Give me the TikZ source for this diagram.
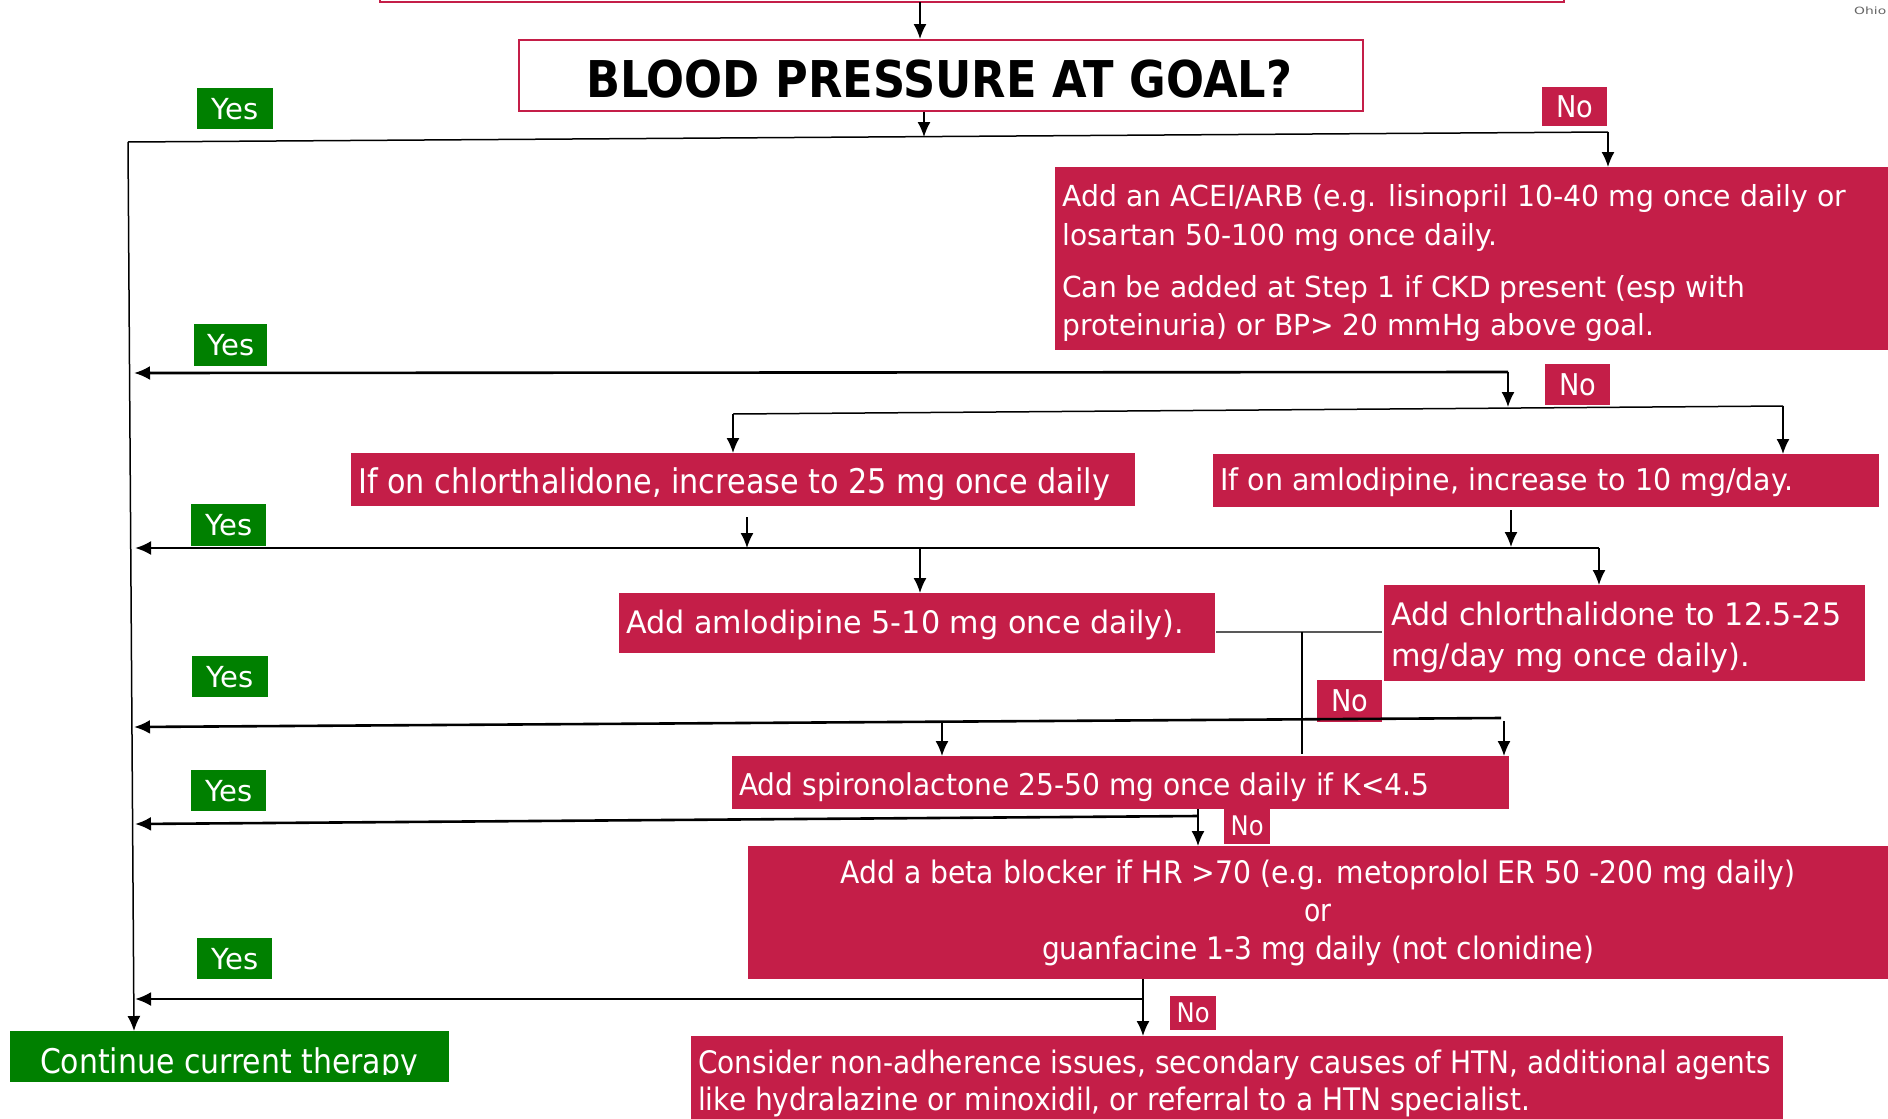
\documentclass[tikz,border=0pt]{standalone}
\usepackage{fontspec}
\usepackage{graphicx}
\setmainfont{DejaVu Sans}
\usetikzlibrary{arrows.meta}
\definecolor{crim}{RGB}{196,30,72}
\definecolor{grn}{RGB}{0,128,0}
\newsavebox\fitbox
\newlength\fitlen
\newcommand\fitw[2]{\sbox\fitbox{#2}\setlength\fitlen{\wd\fitbox}\pgfmathsetmacro\fitr{#1/\fitlen}\scalebox{\fitr}[1]{\usebox\fitbox}}
\newcommand\myfs[1]{\fontsize{#1pt}{#1pt}\selectfont}
\begin{document}
\begin{tikzpicture}[x=1pt,y=-1pt,
  rbox/.style={fill=crim, draw=none, inner sep=0, anchor=north west, text=white},
  gbox/.style={fill=grn, draw=none, inner sep=0, anchor=north west, text=white},
  tw/.style={inner sep=0, text=white, anchor=base west},
  twc/.style={inner sep=0, text=white, anchor=base},
  arr/.style={-{Latex[length=15pt,width=13pt]}, line width=1.5pt},
  tarr/.style={-{Latex[length=16pt,width=14pt]}, line width=2.6pt},
  thinl/.style={line width=1.5pt}]
\useasboundingbox[fill=white] (0,0) rectangle (1888,1119);

% boxes
\node[draw=crim, line width=2pt, inner sep=0, anchor=north west, minimum width=1184pt, minimum height=61pt] (prev) at (379,-60) {};
\node[draw=crim, line width=1.5pt, fill=white, inner sep=0, anchor=north west, minimum width=844pt, minimum height=71pt] (bp) at (518,39) {};
\node[inner sep=0, anchor=base] (bpt) at (939,97) {\myfs{50.7}\bfseries\fitw{706}{BLOOD PRESSURE AT GOAL?}};

\node[gbox, minimum width=76pt, minimum height=41pt] (yes1) at (197,88) {\myfs{29}\fitw{47}{Yes}};
\node[rbox, minimum width=65pt, minimum height=39pt] (no1) at (1542,87) {\myfs{30}\fitw{37}{No}};

\node[rbox, minimum width=840pt, minimum height=183pt] (acei) at (1055,167) {};
\node[tw] (acei1) at (1062,206) {\myfs{29}\fitw{784}{Add an ACEI/ARB (e.g. lisinopril 10-40 mg once daily or}};
\node[tw] (acei2) at (1062,245) {\myfs{29}\fitw{435}{losartan 50-100 mg once daily.}};
\node[tw] (acei3) at (1062,297) {\myfs{29}\fitw{683}{Can be added at Step 1 if CKD present (esp with}};
\node[tw] (acei4) at (1062,335) {\myfs{29}\fitw{592}{proteinuria) or BP> 20 mmHg above goal.}};

\node[gbox, minimum width=73pt, minimum height=42pt] (yes2) at (194,324) {\myfs{29}\fitw{47}{Yes}};
\node[rbox, minimum width=65pt, minimum height=41pt] (no2) at (1545,364) {\myfs{30}\fitw{37}{No}};

\node[rbox, minimum width=784pt, minimum height=53pt] (chl) at (351,453) {};
\node[tw] (chlt) at (358,493) {\myfs{34}\fitw{752}{If on chlorthalidone, increase to 25 mg once daily}};
\node[rbox, minimum width=666pt, minimum height=53pt] (aml) at (1213,454) {};
\node[tw] (amlt) at (1220,490) {\myfs{30}\fitw{573}{If on amlodipine, increase to 10 mg/day.}};

\node[gbox, minimum width=75pt, minimum height=42pt] (yes3) at (191,504) {\myfs{29}\fitw{47}{Yes}};

\node[rbox, minimum width=596pt, minimum height=60pt] (addaml) at (619,593) {};
\node[tw] (addamlt) at (626,633) {\myfs{31}\fitw{558}{Add amlodipine 5-10 mg once daily).}};
\node[rbox, minimum width=481pt, minimum height=96pt] (addchl) at (1384,585) {};
\node[tw] (addchl1) at (1391,625) {\myfs{31}\fitw{450}{Add chlorthalidone to 12.5-25}};
\node[tw] (addchl2) at (1391,666) {\myfs{31}\fitw{359}{mg/day mg once daily).}};

\node[rbox, minimum width=65pt, minimum height=42pt] (no3) at (1317,680) {\myfs{30}\fitw{37}{No}};
\node[gbox, minimum width=76pt, minimum height=41pt] (yes4) at (192,656) {\myfs{29}\fitw{47}{Yes}};

\node[rbox, minimum width=777pt, minimum height=53pt] (spiro) at (732,756) {};
\node[tw] (spirot) at (739,795) {\myfs{30}\fitw{690}{Add spironolactone 25-50 mg once daily if K<4.5}};

\node[gbox, minimum width=75pt, minimum height=41pt] (yes5) at (191,770) {\myfs{29}\fitw{47}{Yes}};
\node[rbox, minimum width=46pt, minimum height=36pt] (no4) at (1224,808) {\myfs{27}\fitw{33}{No}};

\node[rbox, minimum width=1150pt, minimum height=133pt] (beta) at (748,846) {};
\node[twc] (beta1) at (1318,883) {\myfs{31}\fitw{955}{Add a beta blocker if HR >70 (e.g. metoprolol ER 50 -200 mg daily)}};
\node[twc] (beta2) at (1318,921) {\myfs{31}\scalebox{0.86}[1]{or}};
\node[twc] (beta3) at (1318,959) {\myfs{31}\fitw{552}{guanfacine 1-3 mg daily (not clonidine)}};

\node[gbox, minimum width=75pt, minimum height=41pt] (yes6) at (197,938) {\myfs{29}\fitw{47}{Yes}};
\node[rbox, minimum width=46pt, minimum height=34pt] (no5) at (1170,996) {\myfs{27}\fitw{33}{No}};

\node[rbox, minimum width=1092pt, minimum height=100pt] (cons) at (691,1036) {};
\node[tw] (cons1) at (698,1073) {\myfs{31}\fitw{1073}{Consider non-adherence issues, secondary causes of HTN, additional agents}};
\node[tw] (cons2) at (698,1110) {\myfs{31}\fitw{832}{like hydralazine or minoxidil, or referral to a HTN specialist.}};

\node[gbox, minimum width=439pt, minimum height=51pt] (cont) at (10,1031) {};
\begin{scope}
\clip (10,1031) rectangle (449,1074);
\node[twc] (contt) at (229,1073) {\myfs{34}\fitw{378}{Continue current therapy}};
\end{scope}

\node[inner sep=0, anchor=base west, text=black!60] (ohio) at (1854,14) {\myfs{10}\fitw{32}{Ohio}};

% coordinates
\coordinate (a0) at (920,2);
\coordinate (a1) at (924,137);
\coordinate (L1l) at (128,142);
\coordinate (L1r) at (1608,132);
\coordinate (Vb) at (134,1031);
\coordinate (L2r) at (1508,372);
\coordinate (L2l) at (134,373);
\coordinate (L2d) at (1508,407);
\coordinate (L3l) at (733,414);
\coordinate (L3r) at (1783,406);
\coordinate (c1) at (747,517);
\coordinate (c1e) at (747,548);
\coordinate (c2) at (1511,510);
\coordinate (c2e) at (1511,547);
\coordinate (L4r) at (1599,548);
\coordinate (L4l) at (135,548);
\coordinate (L4m) at (920,549);
\coordinate (k1) at (1216,632);
\coordinate (k2) at (1382,632);
\coordinate (km) at (1302,632);
\coordinate (kb) at (1302,754);
\coordinate (L5r) at (1501,718);
\coordinate (L5l) at (134,727);
\coordinate (L5a) at (1504,721);
\coordinate (L5m) at (942,722);
\coordinate (L6r) at (1198,816);
\coordinate (L6l) at (135,824);
\coordinate (L7r) at (1143,999);
\coordinate (L7l) at (135,999);

% connectors
\draw[arr] (a0) -- (a0 |- bp.north);
\draw[arr] (a1 |- bp.south) -- (a1);
\draw[thinl] (L1l) -- (L1r);
\draw[arr] (L1r) -- (L1r |- acei.north);
\draw[arr] (L1l) -- (Vb);
\draw[tarr] (L2r) -- (L2l);
\draw[arr] (L2r) -- (L2d);
\draw[thinl] (L3l) -- (L3r);
\draw[arr] (L3l) -- (L3l |- chl.north);
\draw[arr] (L3r) -- (L3r |- aml.north);
\draw[arr] (c1) -- (c1e);
\draw[arr] (c2) -- (c2e);
\draw[tarr] (L4r) -- (L4l);
\draw[arr] (L4r) -- (L4r |- addchl.north);
\draw[arr] (L4m) -- (L4m |- addaml.north);
\draw[line width=1.3pt, black!65] (k1) -- (k2);
\draw[line width=1.2pt] (km) -- (kb);
\draw[tarr] (L5r) -- (L5l);
\draw[arr] (L5a) -- (L5a |- spiro.north);
\draw[arr] (L5m) -- (L5m |- spiro.north);
\draw[arr] (L6r |- spiro.south) -- (L6r |- beta.north);
\draw[tarr] (L6r) -- (L6l);
\draw[arr] (L7r |- beta.south) -- (L7r |- cons.north);
\draw[tarr] (L7r) -- (L7l);
\end{tikzpicture}
\end{document}
